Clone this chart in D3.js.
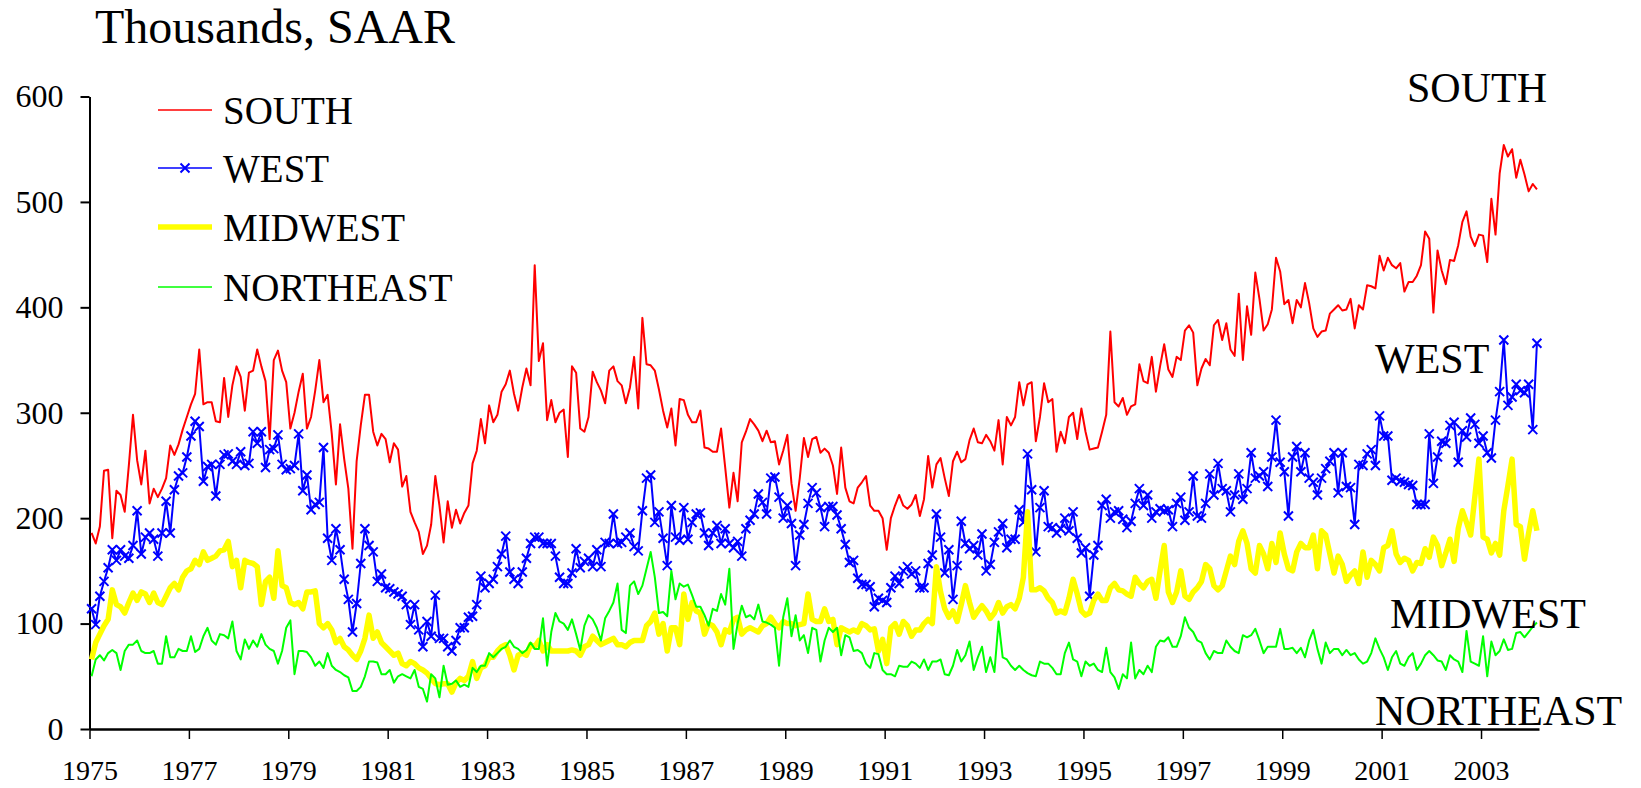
<!DOCTYPE html>
<html>
<head>
<meta charset="utf-8">
<script src="https://cdn.jsdelivr.net/npm/d3@7"></script>
<style>
body { margin: 0; background: #ffffff; }
text { font-family: "Liberation Serif", "Times New Roman", serif; fill: #000; }
</style>
</head>
<body>
<div id="chart"></div>
<script>
var w = 1641;
var h = 788;

// monthly data, Jan 1975 - Feb 2004, thousands SAAR
var firstYear = 1975;
var yearLabels = ["1975","1977","1979","1981","1983","1985","1987","1989","1991","1993","1995","1997","1999","2001","2003"];
var yTicks = [0, 100, 200, 300, 400, 500, 600];
var seriesNames = ["SOUTH", "WEST", "MIDWEST", "NORTHEAST"];

var south = [
186,176,192,245,246,181,226,222,206,250,298,255,
232,264,214,228,220,228,238,269,260,270,284,296,
308,318,360,308,310,310,292,291,333,296,326,344,
334,302,338,340,360,344,330,275,350,359,340,329,
285,300,320,337,285,296,321,350,310,317,280,232,
289,256,228,171,254,288,317,317,282,269,280,275,
253,271,265,230,240,206,196,187,166,174,194,240,
212,177,216,191,208,195,205,212,252,264,294,271,
307,291,298,320,327,340,318,302,324,342,326,440,
349,366,293,312,291,300,303,258,344,338,285,282,
296,339,329,321,309,340,344,330,326,309,324,353,
304,390,346,345,340,322,302,286,304,269,313,312,
298,291,291,302,267,266,263,263,285,248,210,243,
216,272,282,294,289,283,273,283,272,273,251,264,
279,233,207,238,276,258,275,277,262,266,262,250,
223,267,229,216,214,229,234,240,212,207,207,200,
170,200,212,222,212,209,213,222,202,218,259,229,
251,257,238,221,254,263,253,256,274,285,272,271,
279,273,264,293,251,296,288,296,329,307,327,329,
273,296,328,310,313,263,282,271,296,300,275,304,
282,265,266,267,282,298,377,310,306,314,298,306,
308,346,330,328,353,320,344,365,341,334,353,350,
378,383,376,326,342,351,345,383,388,369,385,360,
354,413,350,401,374,433,408,378,384,398,447,434,
403,407,385,407,400,423,404,380,372,377,378,394,
398,402,397,398,408,380,402,398,421,420,418,449,
435,447,440,437,442,415,424,424,430,440,472,465,
395,454,435,422,445,444,459,481,491,467,458,469,
468,443,503,469,527,554,543,550,523,540,526,510,
517,512];

var west = [
114,99,126,140,153,170,160,170,164,162,174,207,
166,182,186,180,164,186,216,186,227,240,243,258,
278,292,287,235,249,251,221,251,260,261,254,251,
263,250,252,282,271,282,248,265,266,279,251,246,
247,250,280,226,241,208,213,215,267,181,160,190,
170,142,123,92,119,157,190,174,168,140,147,134,
133,130,128,126,118,99,118,94,78,102,88,127,
86,86,78,74,84,96,96,106,107,118,145,134,
138,142,154,166,183,149,142,138,149,162,176,182,
182,176,176,176,164,144,138,138,148,171,153,159,
162,154,170,154,177,176,204,176,177,182,186,173,
169,207,238,241,196,206,181,155,212,182,179,210,
180,196,204,205,186,174,186,193,176,190,176,172,
178,164,190,198,204,223,215,204,238,239,220,200,
212,195,155,184,194,214,229,224,210,192,211,211,
203,190,175,158,160,143,137,137,135,116,124,122,
120,134,145,138,150,154,147,150,134,134,157,165,
204,182,148,170,123,155,197,176,171,174,165,185,
150,156,177,187,195,172,180,180,208,196,261,227,
168,210,226,192,191,186,190,200,188,206,181,167,
172,126,165,174,212,218,200,206,207,199,191,197,
214,228,212,222,200,206,209,207,208,192,214,220,
198,206,240,202,200,214,242,222,252,228,226,206,
222,242,218,228,262,238,240,244,230,258,293,253,
244,202,258,268,244,262,238,234,222,238,247,254,
262,224,262,230,229,194,251,250,261,265,250,297,
278,278,236,238,235,234,232,231,213,213,213,280,
233,258,273,271,288,291,253,283,277,295,289,271,
278,262,257,293,320,369,307,315,327,321,319,327,
284,366];

var midwest = [
66,82,90,98,104,132,118,116,110,120,129,122,
130,128,120,129,120,118,126,134,138,132,144,150,
152,160,156,168,160,162,164,169,170,178,154,160,
134,160,158,157,154,118,140,144,124,169,136,134,
120,118,120,114,130,130,131,100,96,100,94,82,
86,78,75,70,66,74,86,108,86,92,82,78,
74,70,72,62,60,64,62,58,56,53,48,43,
42,43,43,35,44,48,46,50,64,48,58,60,
68,68,74,78,80,70,56,70,72,70,80,78,
84,74,80,74,74,74,74,74,75,74,70,78,
80,88,84,80,82,84,86,80,80,78,82,84,
84,84,98,102,110,90,100,74,96,96,80,128,
104,120,112,110,90,100,98,92,80,94,92,104,
106,90,94,96,94,92,98,100,106,100,96,102,
100,100,98,99,100,128,104,102,102,114,102,104,
80,96,94,92,94,92,100,98,94,95,74,85,
62,96,100,90,102,98,88,94,94,100,104,100,
154,130,114,106,112,102,118,136,120,106,112,117,
112,105,110,120,110,116,118,114,124,144,206,132,
132,134,131,124,120,110,112,110,124,142,128,112,
108,110,122,128,122,122,134,138,132,131,128,126,
144,138,134,140,142,124,150,174,130,120,130,150,
126,123,130,134,140,156,152,136,132,136,150,164,
156,178,188,176,152,148,174,166,152,176,158,186,
166,152,150,168,176,172,172,184,152,188,184,166,
148,164,156,140,146,150,138,168,144,160,156,150,
172,174,188,166,158,162,160,150,158,157,171,163,
182,174,155,167,180,159,190,207,196,184,220,256,
182,180,167,176,165,207,231,256,194,192,161,186,
207,188];

var northeast = [
50,66,70,65,72,75,72,56,74,80,80,84,
74,72,72,74,62,62,88,68,68,76,74,74,
88,73,76,88,96,84,80,90,89,86,102,74,
66,85,76,84,78,90,80,76,74,62,74,96,
103,52,74,74,73,68,60,64,58,72,60,56,
54,51,49,36,36,40,50,64,64,63,52,52,
56,44,50,52,50,48,56,40,38,26,52,48,
30,60,42,43,46,40,42,40,58,54,60,60,
72,68,72,76,78,84,78,76,72,75,82,76,
76,105,60,92,110,102,100,94,104,90,75,98,
108,104,96,84,105,112,120,138,94,91,136,140,
128,136,152,168,144,110,111,107,150,123,138,135,
137,127,116,116,108,98,114,112,128,118,152,76,
100,117,106,108,104,118,102,101,99,96,60,106,
124,88,108,84,89,72,96,94,64,84,96,92,
96,70,89,87,74,75,72,62,58,72,71,56,
52,52,50,60,59,59,64,62,58,66,56,64,
64,66,52,51,60,75,64,70,83,56,68,78,
54,68,54,102,68,66,60,56,60,56,53,51,
50,64,62,62,58,52,52,72,82,66,64,50,
64,60,62,56,54,77,54,49,38,52,48,82,
48,56,52,60,54,78,84,83,87,78,78,88,
106,96,92,84,82,72,66,74,72,72,84,78,
74,72,89,87,89,95,84,72,78,78,78,95,
76,76,77,72,77,68,84,94,76,62,82,72,
76,76,70,75,70,72,66,62,64,72,86,76,
68,56,68,74,62,60,68,72,56,62,70,74,
70,65,64,56,70,66,64,54,93,64,62,60,
88,50,83,70,74,85,75,76,91,92,87,92,
97,101];

var serif = '"Liberation Serif","Times New Roman",serif';

var series = [
	{name: seriesNames[0], values: south, color: "#FF0000", width: 2},
	{name: seriesNames[1], values: west, color: "#0000FF", width: 2, marker: true},
	{name: seriesNames[2], values: midwest, color: "#FFFF00", width: 5.5},
	{name: seriesNames[3], values: northeast, color: "#00FF00", width: 2}
];

var nMonths = south.length;

var xscale = d3.scaleLinear()
	.domain([0, nMonths])
	.range([89.5, 1539]);

var yscale = d3.scaleLinear()
	.domain([0, 600])
	.range([729, 96.5]);

var svg = d3.select("#chart")
	.append("svg")
	.attr("width", w)
	.attr("height", h)
	.style("background", "#FFFFFF");

// title
svg.append("text")
	.attr("x", 95)
	.attr("y", 43)
	.style("font-size", "48px")
	.text("Thousands, SAAR");

// y axis
var yAxis = d3.axisLeft(yscale)
	.tickValues(yTicks)
	.tickSize(9)
	.tickSizeOuter(0)
	.tickPadding(17)
	.tickFormat(d3.format("d"));

var gy = svg.append("g")
	.attr("transform", "translate(89.5,0)")
	.call(yAxis)
	.attr("font-family", serif)
	.attr("font-size", 32);
gy.select(".domain").attr("stroke", "#000").attr("stroke-width", 2);
gy.selectAll(".tick line").attr("stroke", "#000").attr("stroke-width", 2);
gy.selectAll(".tick text")
	.style("font-size", "32px")
	.style("font-family", serif)
	.attr("fill", "#000");

// x axis, tick every 2 years
var xAxis = d3.axisBottom(xscale)
	.tickValues(d3.range(0, nMonths, 24))
	.tickSize(10)
	.tickSizeOuter(0)
	.tickPadding(21)
	.tickFormat(function(d, i){ return yearLabels[i]; });

var gx = svg.append("g")
	.attr("transform", "translate(0,729)")
	.call(xAxis)
	.attr("font-family", serif)
	.attr("font-size", 28);
gx.select(".domain").attr("stroke", "#000").attr("stroke-width", 2.5);
gx.selectAll(".tick line").attr("stroke", "#000").attr("stroke-width", 1.5);
gx.selectAll(".tick text")
	.style("font-size", "28px")
	.style("font-family", serif)
	.attr("fill", "#000");

// lines
var line = d3.line()
	.x(function(d, i){ return xscale(i + 0.5); })
	.y(function(d){ return yscale(d); });

var cross = "M-4.5,-4.5L4.5,4.5M-4.5,4.5L4.5,-4.5";

series.forEach(function(s){
	svg.append("path")
		.datum(s.values)
		.attr("d", line)
		.attr("fill", "none")
		.attr("stroke", s.color)
		.attr("stroke-width", s.width)
		.attr("stroke-linejoin", "round");

	if (s.marker) {
		svg.append("g").selectAll("path")
			.data(s.values)
			.enter().append("path")
			.attr("d", cross)
			.attr("transform", function(d, i){ return "translate(" + xscale(i + 0.5) + "," + yscale(d) + ")"; })
			.attr("fill", "none")
			.attr("stroke", s.color)
			.attr("stroke-width", 2);
	}
});

// legend
var legendRows = [110, 168, 227, 287];
var legend = svg.append("g");
series.forEach(function(s, i){
	var ly = legendRows[i];
	legend.append("line")
		.attr("x1", 158).attr("x2", 212)
		.attr("y1", ly).attr("y2", ly)
		.attr("stroke", s.color)
		.attr("stroke-width", s.width === 2 ? 1.5 : s.width);
	if (s.marker) {
		legend.append("path")
			.attr("d", cross)
			.attr("transform", "translate(185," + ly + ")")
			.attr("fill", "none")
			.attr("stroke", s.color)
			.attr("stroke-width", 2);
	}
	legend.append("text")
		.attr("x", 223)
		.attr("y", ly + 14)
		.style("font-size", "39px")
		.text(s.name);
});

// labels at right
var rightLabels = [
	{text: seriesNames[0], x: 1407, y: 102},
	{text: seriesNames[1], x: 1375, y: 373},
	{text: seriesNames[2], x: 1390, y: 628},
	{text: seriesNames[3], x: 1375, y: 725}
];
svg.selectAll(".rlabel")
	.data(rightLabels)
	.enter().append("text")
	.attr("class", "rlabel")
	.attr("x", function(d){ return d.x; })
	.attr("y", function(d){ return d.y; })
	.style("font-size", "42px")
	.text(function(d){ return d.text; });
</script>
</body>
</html>
